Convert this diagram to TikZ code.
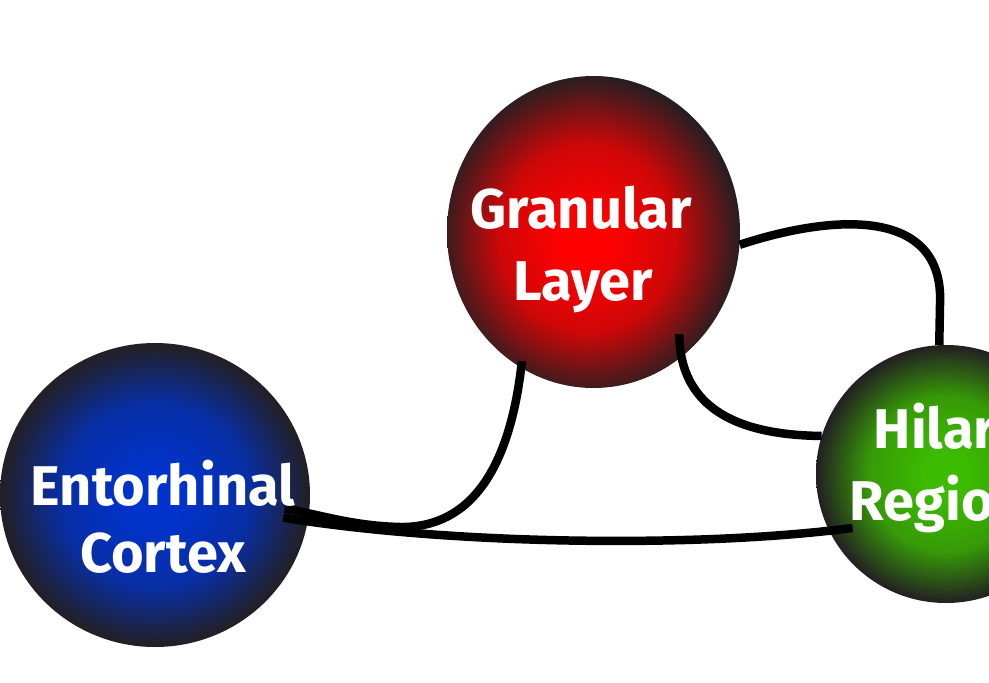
\documentclass[tikz,border=0pt]{standalone}
\usepackage{fontspec}
\setmainfont{Fira Sans}
\usetikzlibrary{calc,shapes.geometric}

\definecolor{gcRed}{RGB}{255,0,0}
\definecolor{gcBlue}{RGB}{0,51,204}
\definecolor{gcGreen}{RGB}{60,188,0}
\definecolor{gcEdge}{RGB}{35,31,34}
\colorlet{gcRedMid}{gcRed!78!gcEdge}
\colorlet{gcBlueMid}{gcBlue!78!gcEdge}
\colorlet{gcGreenMid}{gcGreen!78!gcEdge}

% radial ramps: bright core fading to a dark rim at the shape's edge (25bp)
\pgfdeclareradialshading{redball}{\pgfpoint{-1.5bp}{-1.5bp}}{color(0bp)=(gcRed); color(4bp)=(gcRed); color(15bp)=(gcRedMid); color(26bp)=(gcEdge); color(50bp)=(gcEdge)}
\pgfdeclareradialshading{blueball}{\pgfpoint{0bp}{0bp}}{color(0bp)=(gcBlue); color(4bp)=(gcBlue); color(15bp)=(gcBlueMid); color(25bp)=(gcEdge); color(50bp)=(gcEdge)}
\pgfdeclareradialshading{greenball}{\pgfpoint{0bp}{0bp}}{color(0bp)=(gcGreen); color(4bp)=(gcGreen); color(15bp)=(gcGreenMid); color(25bp)=(gcEdge); color(50bp)=(gcEdge)}

\tikzset{
  region/.style n args={2}{ellipse, inner sep=0pt, minimum width=#1, minimum height=#2},
  lbl/.style={anchor=base, text=white, inner sep=0pt,
    font=\fontsize{56}{60}\selectfont\bfseries},
  link/.style={line width=8.5pt, draw=black}
}

\begin{document}
\begin{tikzpicture}[x=1pt,y=-1pt]
  \useasboundingbox (0,0) rectangle (989,683);
  \clip (0,0) rectangle (989,683);

  % regions
  \node[region={293pt}{312pt}, shading=redball]   (gran)  at (593.5,232) {};
  \node[region={310pt}{304pt}, shading=blueball]  (ento)  at (155,495) {};
  \node[region={260pt}{258pt}, shading=greenball] (hilar) at (946,474) {};

  % connectors
  \coordinate (entoA) at ($(ento.center)!0.84!(ento.-6)$);
  \coordinate (entoB) at ($(ento.center)!0.84!(ento.-10)$);
  \coordinate (granOut) at ($(gran.center)!0.96!(gran.241.5)$);
  \coordinate (granIn) at ($(gran.center)!0.877!(gran.-50.5)$);
  \coordinate (hilarIn) at ($(hilar.center)!0.83!(hilar.210)$);

  \draw[link] (granOut) .. controls (510,470) and (470,528) .. (400,527)
                        .. controls (350,526) and (310,512) .. (entoA);
  \draw[link] (hilarIn) .. controls (700,548) and (450,545) .. (entoB);
  \draw[link] (gran.-5.8) .. controls (830,215) and (945,205) .. (940,305) -- (hilar.93.5);
  \draw[link] (granIn) .. controls (680,410) and (740,435) .. (hilar.163.6);

  % labels
  \node[lbl] (granA)  at (581,228) {Granular};
  \node[lbl] (granB)  at (583,300) {Layer};
  \node[lbl] (entoT)  at (163,505) {Entorhinal};
  \node[lbl] (entoU)  at (163,572) {Cortex};
  \node[lbl] (hilarA) at (935,448) {Hilar};
  \node[lbl] (hilarB) at (938,520) {Region};
\end{tikzpicture}
\end{document}
